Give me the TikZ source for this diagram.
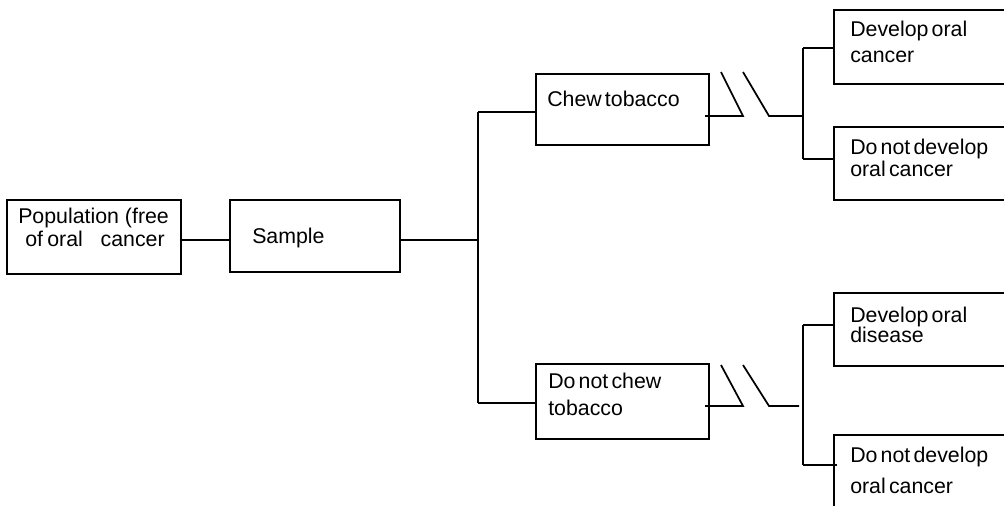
\documentclass[tikz,border=0pt]{standalone}
\usepackage{fontspec}
\setmainfont{Liberation Sans}
\newcommand{\ns}{\hspace{0.15em}}
\begin{document}
\begin{tikzpicture}[x=0.75pt,y=-0.75pt,
  box/.style={draw,line width=1.3pt,rectangle,inner sep=0pt,anchor=north west},
  txt/.style={inner sep=0pt,anchor=base west,font=\fontsize{16}{18}\selectfont},
  conn/.style={line width=1.3pt}]
\clip (0,0) rectangle (1004,506);
% boxes
\node[box,minimum width=0.75*174pt,minimum height=0.75*74pt] (pop) at (6,199) {};
\node[box,minimum width=0.75*170pt,minimum height=0.75*72pt] (samp) at (229,199) {};
\node[box,minimum width=0.75*173pt,minimum height=0.75*71pt] (chew) at (535,73) {};
\node[box,minimum width=0.75*173pt,minimum height=0.75*75pt] (nochew) at (535,363) {};
\node[box,minimum width=0.75*200pt,minimum height=0.75*74pt] (dev1) at (833,9) {};
\node[box,minimum width=0.75*200pt,minimum height=0.75*73pt] (nodev1) at (833,126) {};
\node[box,minimum width=0.75*200pt,minimum height=0.75*73pt] (dev2) at (833,292) {};
\node[box,minimum width=0.75*200pt,minimum height=0.75*100pt] (nodev2) at (833,434) {};
% texts
\node[txt] (popA) at (18,224) {Population (free};
\node[txt] (popB) at (25,247) {of\hspace{0.2em}oral\ \ \ cancer};
\node[txt] (sampT) at (252,244) {Sample};
\node[txt] (chewT) at (547,107) {Chew\ns tobacco};
\node[txt] (nochewA) at (548,388) {Do\ns not\ns chew};
\node[txt] (nochewB) at (548,415) {tobacco};
\node[txt] (dev1A) at (850,37) {Develop\ns oral};
\node[txt] (dev1B) at (850,63) {cancer};
\node[txt] (nodev1A) at (850,155) {Do\ns not\ns develop};
\node[txt] (nodev1B) at (850,177) {oral\ns cancer};
\node[txt] (dev2A) at (850,322) {Develop\ns oral};
\node[txt] (dev2B) at (850,343) {disease};
\node[txt] (nodev2A) at (850,462) {Do\ns not\ns develop};
\node[txt] (nodev2B) at (850,493) {oral\ns cancer};
% junction coordinates
\coordinate (j0) at (478,240);
\coordinate (jt) at (478,112);
\coordinate (jb) at (478,403);
\coordinate (a1) at (743,116);
\coordinate (s1t) at (721,72);
\coordinate (s2t) at (743,72);
\coordinate (s2b) at (769,116);
\coordinate (k1) at (803,116);
\coordinate (k1t) at (803,48);
\coordinate (k1b) at (803,159);
\coordinate (a2) at (743,406);
\coordinate (s3t) at (721,365);
\coordinate (s4t) at (743,365);
\coordinate (s4b) at (769,406);
\coordinate (k2) at (799,406);
\coordinate (k2t) at (803,325);
\coordinate (k2b) at (803,465);
% connectors
\draw[conn] (pop.east |- j0) -- (samp.west |- j0);
\draw[conn] (samp.east |- j0) -- (j0);
\draw[conn] (jt) -- (jb);
\draw[conn] (jt) -- (jt -| chew.west);
\draw[conn] (jb) -- (jb -| nochew.west);
\draw[conn] (705,116) -- (a1) -- (s1t);
\draw[conn] (s2t) -- (s2b) -- (k1);
\draw[conn] (k1t) -- (k1b);
\draw[conn] (k1t) -- (k1t -| dev1.west);
\draw[conn] (k1b) -- (k1b -| nodev1.west);
\draw[conn] (705,406) -- (a2) -- (s3t);
\draw[conn] (s4t) -- (s4b) -- (k2);
\draw[conn] (k2t) -- (k2b);
\draw[conn] (k2t) -- (k2t -| dev2.west);
\draw[conn] (k2b) -- (837,465);
\end{tikzpicture}
\end{document}
